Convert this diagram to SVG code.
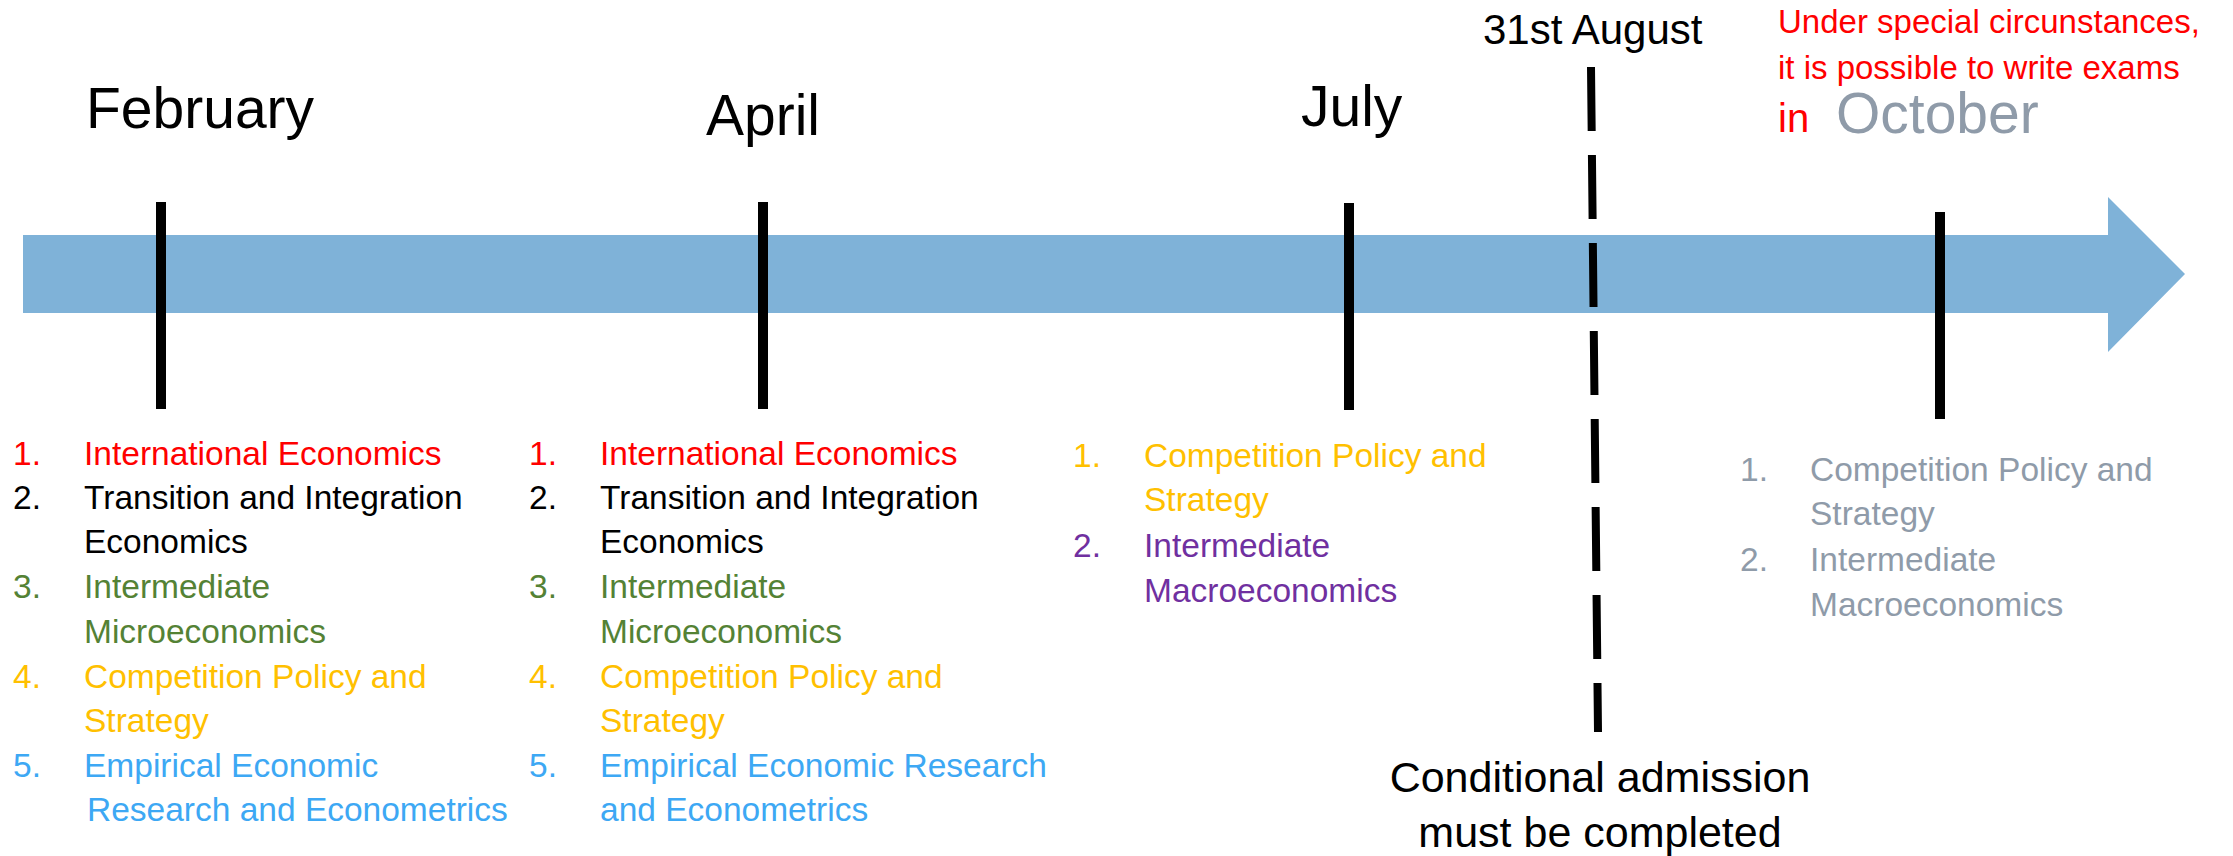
<svg xmlns="http://www.w3.org/2000/svg" width="2233" height="856" viewBox="0 0 2233 856">
<style>
text{font-family:"Liberation Sans",Arial,sans-serif}
.month{font-size:57px;fill:#000}
.li{font-size:33.5px}
.red{fill:#FF0000}.blk{fill:#000}.grn{fill:#548235}.gld{fill:#FFC000}.blu{fill:#3DA8F4}.pur{fill:#7030A0}.gry{fill:#8F9BA9}
.tick{stroke:#000;stroke-width:10}
</style>
<rect width="2233" height="856" fill="#fff"/>
<g id="timeline">
<polygon points="23,235 2108,235 2108,197 2185,274 2108,352 2108,313 23,313" fill="#7FB2D8"/>
</g>
<g id="connectors">
<line class="tick" x1="161" y1="202" x2="161" y2="409"/>
<line class="tick" x1="763" y1="202" x2="763" y2="409"/>
<line class="tick" x1="1349" y1="203" x2="1349" y2="410"/>
<line class="tick" x1="1940" y1="212" x2="1940" y2="419"/>
<line x1="1591" y1="67" x2="1598" y2="732" stroke="#000" stroke-width="8" stroke-dasharray="64 24"/>
</g>
<g id="february">
<text class="month" x="86" y="128">February</text>
<text class="li red" x="13" y="465">1.</text><text class="li red" x="84" y="465">International Economics</text>
<text class="li blk" x="13" y="509">2.</text><text class="li blk" x="84" y="509">Transition and Integration</text>
<text class="li blk" x="84" y="553">Economics</text>
<text class="li grn" x="13" y="598">3.</text><text class="li grn" x="84" y="598">Intermediate</text>
<text class="li grn" x="84" y="643">Microeconomics</text>
<text class="li gld" x="13" y="688">4.</text><text class="li gld" x="84" y="688">Competition Policy and</text>
<text class="li gld" x="84" y="732">Strategy</text>
<text class="li blu" x="13" y="777">5.</text><text class="li blu" x="84" y="777">Empirical Economic</text>
<text class="li blu" x="87" y="821">Research and Econometrics</text>
</g>
<g id="april">
<text class="month" x="706" y="135">April</text>
<text class="li red" x="529" y="465">1.</text><text class="li red" x="600" y="465">International Economics</text>
<text class="li blk" x="529" y="509">2.</text><text class="li blk" x="600" y="509">Transition and Integration</text>
<text class="li blk" x="600" y="553">Economics</text>
<text class="li grn" x="529" y="598">3.</text><text class="li grn" x="600" y="598">Intermediate</text>
<text class="li grn" x="600" y="643">Microeconomics</text>
<text class="li gld" x="529" y="688">4.</text><text class="li gld" x="600" y="688">Competition Policy and</text>
<text class="li gld" x="600" y="732">Strategy</text>
<text class="li blu" x="529" y="777">5.</text><text class="li blu" x="600" y="777">Empirical Economic Research</text>
<text class="li blu" x="600" y="821">and Econometrics</text>
</g>
<g id="july">
<text class="month" x="1301" y="126">July</text>
<text class="li gld" x="1073" y="467">1.</text><text class="li gld" x="1144" y="467">Competition Policy and</text>
<text class="li gld" x="1144" y="511">Strategy</text>
<text class="li pur" x="1073" y="557">2.</text><text class="li pur" x="1144" y="557">Intermediate</text>
<text class="li pur" x="1144" y="602">Macroeconomics</text>
</g>
<g id="august">
<text x="1483" y="44" font-size="42" fill="#000">31st August</text>
<text x="1600" y="792" font-size="43" fill="#000" text-anchor="middle">Conditional admission</text>
<text x="1600" y="847" font-size="43" fill="#000" text-anchor="middle">must be completed</text>
</g>
<g id="october">
<text x="1778" y="33" font-size="33" class="red">Under special circunstances,</text>
<text x="1778" y="79" font-size="33" class="red">it is possible to write exams</text>
<text x="1778" y="132" font-size="40" class="red">in</text>
<text x="1836" y="133" font-size="57" class="gry">October</text>
<text class="li gry" x="1740" y="481">1.</text><text class="li gry" x="1810" y="481">Competition Policy and</text>
<text class="li gry" x="1810" y="525">Strategy</text>
<text class="li gry" x="1740" y="571">2.</text><text class="li gry" x="1810" y="571">Intermediate</text>
<text class="li gry" x="1810" y="616">Macroeconomics</text>
</g>
</svg>
